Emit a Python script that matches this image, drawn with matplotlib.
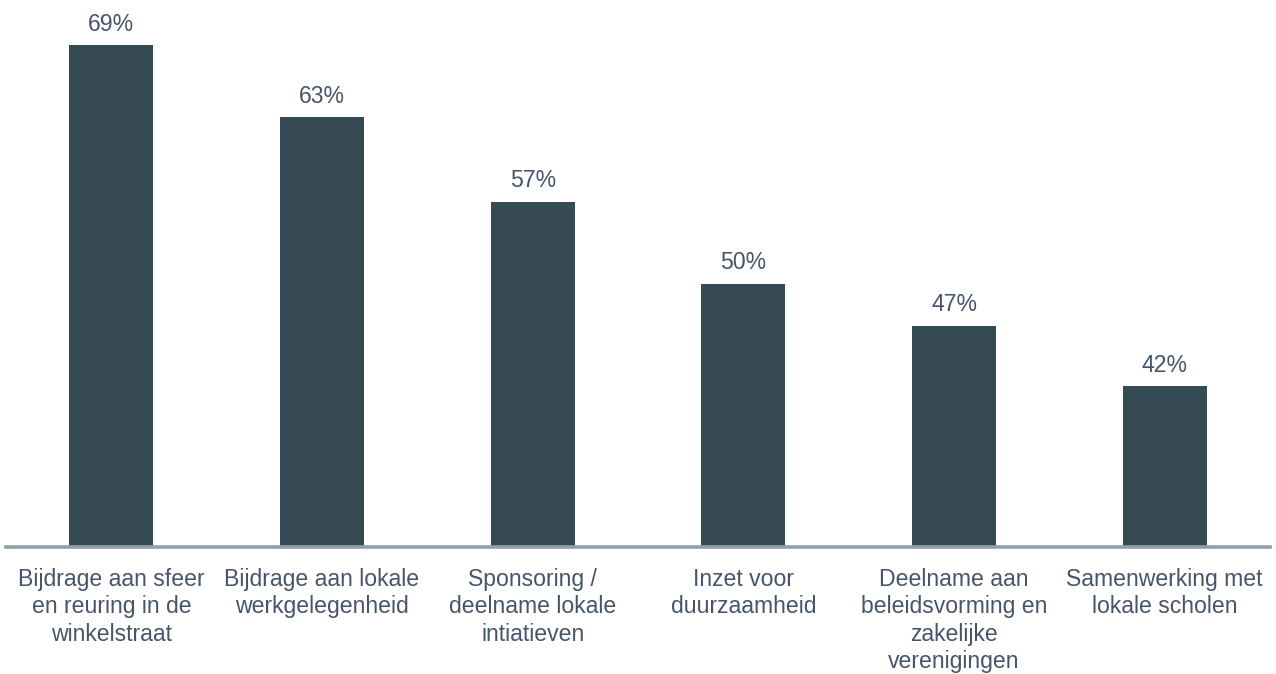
import matplotlib
matplotlib.use("Agg")
import matplotlib.pyplot as plt

categories = [
    "Bijdrage aan sfeer\nen reuring in de\nwinkelstraat",
    "Bijdrage aan lokale\nwerkgelegenheid",
    "Sponsoring /\ndeelname lokale\nintiatieven",
    "Inzet voor\nduurzaamheid",
    "Deelname aan\nbeleidsvorming en\nzakelijke\nverenigingen",
    "Samenwerking met\nlokale scholen",
]
values = [69.0, 63.3, 56.6, 50.1, 46.8, 42.0]
value_labels = ["69%", "63%", "57%", "50%", "47%", "42%"]

BAR = "#354A52"
TXT = "#46556A"
AXIS = "#8FA0AA"

plt.rcParams["font.family"] = ["Liberation Sans", "DejaVu Sans"]

fig = plt.figure(figsize=(12.76, 6.74), dpi=100)
ax = fig.add_axes([6 / 1276, (674 - 547) / 674, 1264 / 1276, 547 / 674])

x = list(range(len(categories)))
bars = ax.bar(x, values, width=0.4, color=BAR, zorder=2)

for rect, lab in zip(bars, value_labels):
    ax.annotate(lab, (rect.get_x() + rect.get_width() / 2, rect.get_height()),
                xytext=(0, 10.5), textcoords="offset points",
                ha="center", va="baseline", fontsize=16.6, color=TXT)

ax.set_xlim(-0.5, len(categories) - 0.5)
ax.set_ylim(29.25, 72.6)
ax.set_xticks(x)
ax.set_xticklabels(categories, fontsize=16.6, color=TXT, linespacing=1.25)
ax.tick_params(axis="x", length=0, pad=15)
ax.set_yticks([])

for s in ["top", "right", "left"]:
    ax.spines[s].set_visible(False)
ax.spines["bottom"].set_color(AXIS)
ax.spines["bottom"].set_linewidth(2.6)
ax.spines["bottom"].set_zorder(3)

fig.savefig("out.png", dpi=100)
